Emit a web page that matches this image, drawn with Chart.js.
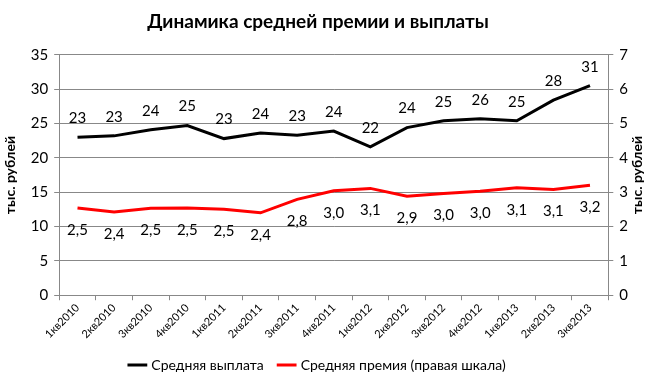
<!DOCTYPE html>
<html>
<head>
<meta charset="utf-8">
<script src="https://cdn.jsdelivr.net/npm/chart.js@4.4.0/dist/chart.umd.min.js"></script>
<style>
  body { margin: 0; background: #fff; }
  #wrap { width: 650px; height: 388px; }
</style>
</head>
<body>
<div id="wrap"><canvas id="chart" width="650" height="388"></canvas></div>
<script>
var quarters = ["1кв2010", "2кв2010", "3кв2010", "4кв2010", "1кв2011", "2кв2011", "3кв2011", "4кв2011",
	"1кв2012", "2кв2012", "3кв2012", "4кв2012", "1кв2013", "2кв2013", "3кв2013"];
var avgPayment = [23.0, 23.2, 24.1, 24.7, 22.8, 23.6, 23.3, 23.9, 21.6, 24.4, 25.4, 25.7, 25.4, 28.4, 30.5];
var avgBonus = [2.54, 2.42, 2.53, 2.54, 2.50, 2.40, 2.79, 3.04, 3.11, 2.88, 2.96, 3.03, 3.13, 3.08, 3.20];
var axisTitle = "тыс. рублей";

var FONT = "Lato, 'Open Sans', sans-serif";

// подписи значений над/под точками + заголовок правой оси (снизу вверх, как в Excel)
var valueLabels = {
	id: 'valueLabels',
	afterDatasetsDraw: function(chart) {
		var ctx = chart.ctx;
		ctx.save();
		ctx.font = "15px " + FONT;
		ctx.fillStyle = "#000";
		ctx.textAlign = 'center';
		ctx.textBaseline = 'middle';
		chart.data.datasets.forEach(function(ds, di) {
			var meta = chart.getDatasetMeta(di);
			meta.data.forEach(function(pt, i) {
				var v = ds.data[i];
				if (di === 0) {
					ctx.fillText(Math.round(v).toString(), pt.x, pt.y - 19);
				} else {
					ctx.fillText(v.toFixed(1).replace('.', ','), pt.x, pt.y + 22);
				}
			});
		});
		var area = chart.chartArea;
		ctx.translate(chart.width - 13, (area.top + area.bottom) / 2);
		ctx.rotate(-Math.PI / 2);
		ctx.font = "bold 14px " + FONT;
		ctx.fillText(axisTitle, 0, 0);
		ctx.restore();
	}
};

var ctx1 = document.getElementById("chart");
var chart1 = new Chart(ctx1, {
	type: "line",
	data: {
		labels: quarters,
		datasets: [
			{
				label: "Средняя выплата",
				data: avgPayment,
				borderColor: "#000000",
				backgroundColor: "#000000",
				borderWidth: 3,
				pointRadius: 0,
				tension: 0,
				yAxisID: 'y'
			},
			{
				label: "Средняя премия (правая шкала)",
				data: avgBonus,
				borderColor: "#ff0000",
				backgroundColor: "#ff0000",
				borderWidth: 3,
				pointRadius: 0,
				tension: 0,
				yAxisID: 'y1'
			}
		]
	},
	options: {
		responsive: false,
		animation: false,
		layout: { padding: { left: 2, right: 16, top: 4, bottom: 6 } },
		plugins: {
			title: {
				display: true,
				text: "Динамика средней премии и выплаты",
				color: "#000",
				font: { family: FONT, size: 19, weight: 'bold' },
				padding: { top: 6, bottom: 22 }
			},
			legend: {
				position: 'bottom',
				labels: {
					color: "#000",
					font: { family: FONT, size: 14 },
					usePointStyle: true,
					pointStyle: 'line',
					boxWidth: 28,
					padding: 16
				}
			},
			tooltip: { enabled: false }
		},
		scales: {
			x: {
				offset: true,
				grid: { display: true, drawOnChartArea: false, offset: true, tickLength: 5, color: "#888" },
				border: { color: "#888" },
				ticks: {
					color: "#000",
					font: { family: FONT, size: 11 },
					maxRotation: 45,
					minRotation: 45,
					padding: 1
				}
			},
			y: {
				position: 'left',
				min: 0, max: 35,
				ticks: { stepSize: 5, color: "#000", font: { family: FONT, size: 15 }, padding: 6 },
				grid: { color: "#888", tickLength: 5 },
				border: { color: "#888" },
				title: { display: true, text: axisTitle, color: "#000", font: { family: FONT, size: 14, weight: 'bold' }, padding: { top: 0, bottom: 6 } }
			},
			y1: {
				position: 'right',
				min: 0, max: 7,
				ticks: { stepSize: 1, color: "#000", font: { family: FONT, size: 15 }, padding: 6 },
				grid: { drawOnChartArea: false, color: "#888", tickLength: 5 },
				border: { color: "#888" }
			}
		}
	},
	plugins: [valueLabels]
});
</script>
</body>
</html>
